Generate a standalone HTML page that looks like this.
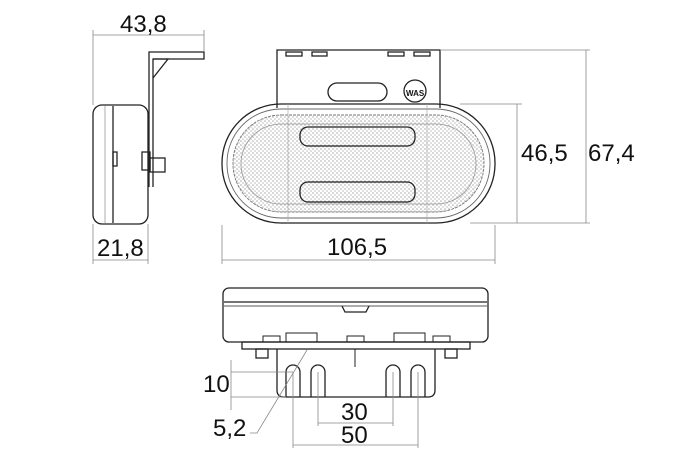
<!DOCTYPE html>
<html><head><style>
html,body{margin:0;padding:0;background:#fff;}
svg{display:block}
text{font-family:"Liberation Sans",sans-serif;font-size:24px;fill:#111;}
</style></head><body>
<svg width="700" height="465" viewBox="0 0 700 465" xmlns="http://www.w3.org/2000/svg">
<defs>
<pattern id="dots" width="4" height="4" patternUnits="userSpaceOnUse">
<rect width="4" height="4" fill="#fff"/>
<circle cx="1" cy="1" r="0.8" fill="#aaa"/><circle cx="3" cy="3" r="0.8" fill="#bbb"/>
</pattern>
</defs>
<g fill="none" stroke="#222" stroke-width="1.3">
<!-- SIDE VIEW -->
<path d="M149 187 V52 H204 V59 H153 V187"/>
<path d="M153 59 L168 59 L153 78"/>
<rect x="93" y="105" width="55" height="119" rx="9"/>
<line x1="113" y1="106" x2="113" y2="223"/>
<line x1="105" y1="106" x2="105" y2="223" stroke="#999" stroke-width="0.8"/>
<rect x="113" y="152" width="4" height="14"/>
<rect x="142" y="152" width="8" height="18"/>
<rect x="150" y="158" width="15" height="14"/>
</g>
<g stroke="#888" stroke-width="0.8" fill="none">
<line x1="93" y1="35" x2="204" y2="35"/>
<line x1="93" y1="30" x2="93" y2="105"/>
<line x1="204" y1="30" x2="204" y2="52"/>
<line x1="93" y1="224" x2="93" y2="264"/>
<line x1="148" y1="224" x2="148" y2="264"/>
<line x1="93" y1="260" x2="148" y2="260"/>
</g>
<text x="120" y="32">43,8</text>
<text x="97" y="256">21,8</text>

<!-- FRONT VIEW -->
<rect x="233" y="115" width="251" height="97" rx="48" fill="url(#dots)"/>
<g fill="none" stroke="#222" stroke-width="1.3">
<path d="M277 108 V50 H440 V108"/>
<rect x="286" y="52" width="16" height="4"/><rect x="312" y="52" width="15" height="4"/>
<rect x="388" y="52" width="16" height="4"/><rect x="414" y="52" width="16" height="4"/>
<rect x="328" y="83" width="59" height="18" rx="9"/>
<circle cx="415" cy="91" r="11"/>
<rect x="222" y="104" width="273" height="119" rx="59"/>
<rect x="227" y="109" width="263" height="109" rx="54" stroke="#666" stroke-width="0.9"/>
<rect x="233" y="115" width="251" height="97" rx="48" stroke="#777" stroke-width="0.9" stroke-dasharray="3 1"/>
<rect x="241" y="124" width="235" height="80" rx="40" stroke="#999" stroke-width="0.8"/>
<rect x="300" y="127" width="115" height="19" rx="8"/>
<rect x="300" y="182" width="115" height="20" rx="8"/>
</g>
<g stroke="#aaa" stroke-width="0.7"><line x1="288" y1="104" x2="288" y2="223"/><line x1="427" y1="104" x2="427" y2="223"/></g>
<text x="406" y="96" style="font-size:8px;font-weight:bold">WAS</text>
<g stroke="#888" stroke-width="0.8" fill="none">
<line x1="222" y1="225" x2="222" y2="264"/>
<line x1="495" y1="225" x2="495" y2="264"/>
<line x1="222" y1="260" x2="495" y2="260"/>
<line x1="440" y1="50" x2="590" y2="50"/>
<line x1="460" y1="104" x2="522" y2="104"/>
<line x1="470" y1="223" x2="590" y2="223"/>
<line x1="517" y1="104" x2="517" y2="223"/>
<line x1="586" y1="50" x2="586" y2="223"/>
</g>
<text x="327" y="255">106,5</text>
<text x="521" y="161">46,5</text>
<text x="588" y="161">67,4</text>

<!-- BOTTOM VIEW -->
<g fill="none" stroke="#222" stroke-width="1.3">
<rect x="223" y="288" width="265" height="54" rx="6"/>
<line x1="224" y1="302" x2="487" y2="302"/>
<line x1="224" y1="306" x2="487" y2="306" stroke-width="0.8"/>
<path d="M342 306 L345 312 H366 L369 306"/>
<rect x="242" y="342" width="228" height="7"/>
<rect x="256" y="349" width="12" height="9"/><rect x="445" y="349" width="12" height="9"/>
<path d="M277 349 V390 Q277 397 284 397 H428 Q435 397 435 390 V349"/>
<path d="M263 342 V336 H280 V342 M286 342 V333 H317 V342 M347 342 V336 H364 V342 M394 342 V333 H425 V342 M433 342 V336 H450 V342" stroke-width="1"/>
<line x1="355" y1="349" x2="355" y2="367" stroke-width="1"/>
<g>
<path d="M286 397 V372 A7 7 0 0 1 300 372 V397"/>
<path d="M311 397 V372 A7 7 0 0 1 325 372 V397"/>
<path d="M386 397 V372 A7 7 0 0 1 400 372 V397"/>
<path d="M411 397 V372 A7 7 0 0 1 425 372 V397"/>
</g>
</g>
<g stroke="#888" stroke-width="0.8" fill="none">
<line x1="231" y1="360" x2="231" y2="410"/>
<line x1="231" y1="372" x2="293" y2="372"/>
<line x1="231" y1="397" x2="286" y2="397"/>
<line x1="318" y1="372" x2="318" y2="426"/>
<line x1="393" y1="372" x2="393" y2="426"/>
<line x1="293" y1="372" x2="293" y2="448"/>
<line x1="418" y1="372" x2="418" y2="448"/>
<line x1="318" y1="423" x2="393" y2="423"/>
<line x1="293" y1="445" x2="418" y2="445"/>
<polyline points="250,433 257,433 307,350"/>
</g>
<text x="203" y="392">10</text>
<text x="213" y="436">5,2</text>
<text x="341" y="420">30</text>
<text x="341" y="443">50</text>
</svg>
</body></html>
